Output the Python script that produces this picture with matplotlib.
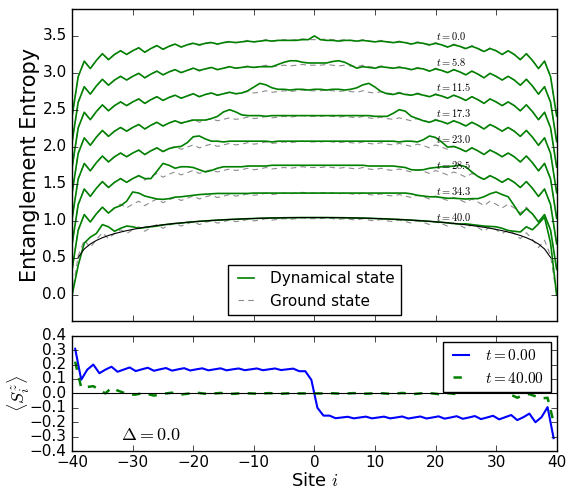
import numpy as np
import matplotlib.pyplot as plt
from matplotlib.lines import Line2D

plt.style.use('classic')
plt.rcParams['mathtext.fontset'] = 'cm'
plt.rcParams['xtick.labelsize'] = 11
plt.rcParams['ytick.labelsize'] = 11

# entanglement entropy on the bonds -40..40
times = [0.0, 5.8, 11.5, 17.3, 23.0, 28.5, 34.3, 40.0]
bonds = np.arange(-40, 41)

ground = [0.00, 0.53, 0.74, 0.64, 0.75, 0.84, 0.76, 0.83, 0.88, 0.83,
          0.88, 0.92, 0.86, 0.91, 0.95, 0.90, 0.94, 0.97, 0.93, 0.96,
          0.99, 0.95, 0.98, 1.00, 0.97, 0.99, 1.01, 0.99, 1.00, 1.02,
          1.00, 1.01, 1.03, 1.01, 1.02, 1.03, 1.02, 1.03, 1.04, 1.03,
          1.03,
          1.03, 1.04, 1.03, 1.02, 1.03, 1.02, 1.01, 1.03, 1.01, 1.00,
          1.02, 1.00, 0.99, 1.01, 0.99, 0.97, 1.00, 0.98, 0.95, 0.99,
          0.96, 0.93, 0.97, 0.94, 0.90, 0.95, 0.91, 0.86, 0.92, 0.88,
          0.83, 0.88, 0.83, 0.76, 0.84, 0.75, 0.64, 0.74, 0.53, 0.00]

dyn_t00 = [0.00, 0.53, 0.74, 0.64, 0.75, 0.84, 0.76, 0.83, 0.88, 0.83,
           0.88, 0.92, 0.86, 0.91, 0.95, 0.90, 0.94, 0.97, 0.93, 0.96,
           0.98, 0.96, 0.98, 0.99, 0.97, 0.99, 1.00, 0.99, 1.00, 1.01,
           1.00, 1.01, 1.02, 1.01, 1.02, 1.02, 1.02, 1.02, 1.03, 1.03,
           1.08,
           1.03, 1.02, 1.02, 1.01, 1.02, 1.02, 1.01, 1.02, 1.01, 1.00,
           1.01, 1.00, 0.99, 1.00, 0.99, 0.97, 0.99, 0.98, 0.96, 0.98,
           0.96, 0.93, 0.96, 0.94, 0.91, 0.94, 0.91, 0.87, 0.91, 0.88,
           0.83, 0.88, 0.83, 0.76, 0.84, 0.75, 0.64, 0.74, 0.53, 0.00]

dyn_t06 = [0.00, 0.53, 0.74, 0.64, 0.75, 0.84, 0.76, 0.83, 0.88, 0.83,
           0.88, 0.92, 0.86, 0.91, 0.95, 0.90, 0.94, 0.97, 0.93, 0.96,
           0.99, 0.96, 0.98, 1.00, 0.97, 0.99, 1.01, 0.99, 1.00, 1.01,
           1.00, 1.01, 1.01, 1.01, 1.04, 1.07, 1.09, 1.09, 1.07, 1.06,
           1.06,
           1.06, 1.06, 1.08, 1.09, 1.07, 1.03, 0.99, 1.01, 1.00, 0.99,
           1.01, 1.00, 0.99, 1.00, 0.99, 0.97, 0.99, 0.98, 0.95, 0.98,
           0.96, 0.93, 0.97, 0.94, 0.90, 0.95, 0.91, 0.86, 0.92, 0.88,
           0.83, 0.88, 0.83, 0.76, 0.84, 0.75, 0.64, 0.74, 0.53, 0.00]

dyn_t12 = [0.00, 0.53, 0.74, 0.64, 0.75, 0.84, 0.76, 0.83, 0.88, 0.83,
           0.88, 0.92, 0.86, 0.91, 0.95, 0.90, 0.94, 0.97, 0.93, 0.96,
           0.99, 0.95, 0.98, 1.00, 0.97, 0.99, 1.01, 0.99, 1.00, 1.03,
           1.08, 1.13, 1.11, 1.07, 1.05, 1.05, 1.04, 1.05, 1.05, 1.04,
           1.05,
           1.05, 1.04, 1.05, 1.05, 1.04, 1.05, 1.07, 1.11, 1.13, 1.08,
           1.02, 0.99, 0.98, 1.00, 0.98, 0.97, 0.99, 0.97, 0.95, 0.98,
           0.96, 0.93, 0.97, 0.94, 0.90, 0.95, 0.91, 0.86, 0.92, 0.88,
           0.83, 0.88, 0.83, 0.76, 0.84, 0.75, 0.64, 0.74, 0.53, 0.00]

dyn_t17 = [0.00, 0.53, 0.74, 0.64, 0.75, 0.84, 0.76, 0.83, 0.88, 0.83,
           0.88, 0.92, 0.86, 0.91, 0.95, 0.90, 0.94, 0.97, 0.94, 0.96,
           0.98, 0.98, 0.98, 1.00, 1.03, 1.09, 1.12, 1.09, 1.05, 1.04,
           1.04, 1.04, 1.03, 1.04, 1.04, 1.04, 1.04, 1.04, 1.04, 1.04,
           1.04,
           1.04, 1.04, 1.04, 1.04, 1.04, 1.04, 1.04, 1.04, 1.04, 1.03,
           1.03, 1.03, 1.07, 1.12, 1.10, 1.03, 1.00, 0.97, 0.95, 0.98,
           0.96, 0.93, 0.97, 0.94, 0.90, 0.95, 0.91, 0.86, 0.92, 0.88,
           0.83, 0.88, 0.83, 0.76, 0.84, 0.75, 0.64, 0.74, 0.53, 0.00]

dyn_t23 = [0.00, 0.53, 0.74, 0.64, 0.75, 0.84, 0.76, 0.83, 0.88, 0.83,
           0.88, 0.92, 0.86, 0.91, 0.95, 0.90, 0.94, 0.96, 0.97, 1.02,
           1.10, 1.11, 1.07, 1.04, 1.04, 1.03, 1.04, 1.04, 1.04, 1.04,
           1.04, 1.04, 1.04, 1.03, 1.04, 1.04, 1.04, 1.04, 1.04, 1.04,
           1.04,
           1.04, 1.04, 1.04, 1.04, 1.04, 1.04, 1.04, 1.04, 1.04, 1.04,
           1.04, 1.04, 1.04, 1.03, 1.04, 1.04, 1.03, 1.06, 1.11, 1.09,
           1.03, 0.96, 0.97, 0.94, 0.90, 0.95, 0.91, 0.86, 0.92, 0.88,
           0.83, 0.88, 0.83, 0.76, 0.84, 0.75, 0.64, 0.74, 0.53, 0.00]

dyn_t29 = [0.00, 0.53, 0.74, 0.64, 0.75, 0.84, 0.76, 0.83, 0.88, 0.83,
           0.88, 0.92, 0.88, 0.88, 0.98, 1.085, 1.06, 1.02, 1.04, 1.04,
           1.03, 1.00, 0.97, 0.99, 1.02, 1.04, 1.04, 1.04, 1.04, 1.05,
           1.05, 1.05, 1.05, 1.06, 1.06, 1.06, 1.06, 1.06, 1.06, 1.06,
           1.06,
           1.06, 1.06, 1.06, 1.06, 1.06, 1.06, 1.06, 1.06, 1.05, 1.05,
           1.05, 1.05, 1.05, 1.04, 1.03, 1.00, 0.995, 1.00, 1.02, 1.03,
           1.04, 1.04, 1.05, 1.06, 1.04, 0.97, 0.91, 0.87, 0.92, 0.88,
           0.83, 0.88, 0.83, 0.76, 0.84, 0.75, 0.64, 0.74, 0.53, 0.00]

dyn_t34 = [0.00, 0.53, 0.74, 0.64, 0.75, 0.84, 0.76, 0.83, 0.86, 0.92,
           1.045, 1.03, 0.99, 0.97, 0.95, 0.945, 0.955, 0.975, 0.98, 0.99,
           1.00, 1.01, 1.015, 1.02, 1.025, 1.025, 1.025, 1.025, 1.025, 1.025,
           1.03, 1.03, 1.03, 1.03, 1.03, 1.03, 1.03, 1.03, 1.03, 1.03,
           1.03,
           1.03, 1.03, 1.03, 1.03, 1.03, 1.03, 1.03, 1.03, 1.03, 1.03,
           1.03, 1.03, 1.03, 1.03, 1.03, 1.02, 1.00, 0.99, 0.98, 0.98,
           0.97, 0.96, 0.96, 0.955, 0.95, 0.955, 0.955, 0.98, 1.02, 1.045,
           1.01, 0.98, 0.86, 0.735, 0.82, 0.75, 0.64, 0.74, 0.53, 0.00]

dyn_t40 = [0.00, 0.40, 0.70, 0.78, 0.83, 0.95, 0.92, 0.86, 0.90, 0.93,
           0.92, 0.90, 0.91, 0.92, 0.93, 0.945, 0.955, 0.965, 0.97, 0.98,
           0.987, 0.994, 0.999, 1.005, 1.010, 1.014, 1.019, 1.022, 1.026, 1.029,
           1.032, 1.035, 1.037, 1.039, 1.040, 1.042, 1.043, 1.044, 1.045, 1.045,
           1.045,
           1.045, 1.045, 1.044, 1.043, 1.042, 1.040, 1.039, 1.037, 1.035, 1.032,
           1.029, 1.026, 1.022, 1.019, 1.014, 1.010, 1.005, 0.999, 0.994, 0.987,
           0.981, 0.973, 0.965, 0.957, 0.96, 0.95, 0.94, 0.93, 0.925, 0.92,
           0.90, 0.87, 0.86, 0.85, 0.92, 0.88, 0.96, 1.05, 0.70, 0.00]

dynamical = [dyn_t00, dyn_t06, dyn_t12, dyn_t17, dyn_t23, dyn_t29, dyn_t34, dyn_t40]

# smooth reference curve for the last time, bonds -39..39
cft_bonds = np.arange(-39, 40)
cft = [0.506, 0.621, 0.688, 0.736, 0.773, 0.803, 0.828, 0.849, 0.868, 0.885,
       0.900, 0.914, 0.926, 0.937, 0.947, 0.957, 0.965, 0.973, 0.981, 0.987,
       0.994, 0.999, 1.005, 1.010, 1.014, 1.019, 1.022, 1.026, 1.029, 1.032,
       1.035, 1.037, 1.039, 1.040, 1.042, 1.043, 1.044, 1.045, 1.045,
       1.045,
       1.045, 1.045, 1.044, 1.043, 1.042, 1.040, 1.039, 1.037, 1.035, 1.032,
       1.029, 1.026, 1.022, 1.019, 1.014, 1.010, 1.005, 0.999, 0.994, 0.987,
       0.981, 0.973, 0.965, 0.957, 0.947, 0.937, 0.926, 0.914, 0.900, 0.885,
       0.868, 0.849, 0.828, 0.803, 0.773, 0.736, 0.688, 0.621, 0.506]

# magnetisation on the sites -39.5..39.5
sites = np.arange(-39.5, 40.0, 1.0)
sz_t0 = [0.31, 0.095, 0.165, 0.20, 0.14, 0.165, 0.185, 0.15, 0.165, 0.18,
         0.155, 0.167, 0.178, 0.157, 0.167, 0.176, 0.158, 0.167, 0.175, 0.159,
         0.167, 0.174, 0.160, 0.167, 0.174, 0.160, 0.167, 0.173, 0.161, 0.167,
         0.173, 0.161, 0.167, 0.173, 0.162, 0.167, 0.172, 0.154, 0.154, 0.094,
         -0.10, -0.154, -0.154, -0.172, -0.167, -0.162, -0.173, -0.167, -0.161, -0.173,
         -0.167, -0.161, -0.173, -0.167, -0.160, -0.174, -0.167, -0.160, -0.174, -0.167,
         -0.159, -0.175, -0.167, -0.158, -0.176, -0.167, -0.157, -0.178, -0.167, -0.155,
         -0.18, -0.165, -0.15, -0.185, -0.165, -0.14, -0.20, -0.165, -0.095, -0.31]
sz_t40 = [0.22, 0.04, 0.045, 0.05, 0.025, 0.0, 0.04, 0.02, 0.005, -0.01,
          -0.008, 0.0, -0.005, -0.015, -0.008, 0.0, 0.005, -0.008, -0.005, 0.0,
          0.006, 0.0, -0.004, 0.0, 0.003, 0.0, -0.003, 0.0, 0.002, 0.0,
          -0.002, 0.0, 0.002, 0.0, -0.002, 0.0, 0.002, 0.0, 0.0, 0.0,
          0.0, 0.0, 0.002, 0.0, -0.002, 0.0, 0.002, 0.0, -0.002, 0.0,
          0.003, 0.0, -0.003, 0.0, 0.003, 0.0, -0.004, 0.0, 0.004, 0.0,
          -0.005, 0.004, 0.0, -0.005, 0.005, 0.012, 0.018, 0.008, 0.01, 0.015,
          0.02, 0.005, -0.01, -0.03, -0.01, -0.005, -0.02, -0.035, -0.03, -0.2]

shift = 0.345

fig = plt.figure(figsize=(5.68, 4.93), dpi=100, facecolor='white')
ax1 = fig.add_axes([0.127, 0.349, 0.853, 0.633])
ax2 = fig.add_axes([0.127, 0.085, 0.853, 0.234])

for n, (t, s) in enumerate(zip(times, dynamical)):
    k = len(times) - 1 - n
    ax1.plot(bonds, np.array(ground) + k * shift, '--', color='0.55', lw=0.8, dashes=(4, 3))
    ax1.plot(bonds, np.array(s) + k * shift, '-', color='g', lw=1.2)
    ax1.text(20, 1.05 + k * 0.35, r'$t=%.1f$' % t, fontsize=7.5, va='center', ha='left')
ax1.plot(cft_bonds, cft, '-', color='k', lw=0.8)

handles = [Line2D([], [], color='g', lw=1.2),
           Line2D([], [], color='0.55', lw=0.8, ls='--', dashes=(4, 3))]
ax1.legend(handles, ['Dynamical state', 'Ground state'], loc='lower center',
           fontsize=11, handlelength=1.6, numpoints=2, borderaxespad=0.4)
ax1.set_xlim(-40, 40)
ax1.set_ylim(-0.35, 3.86)
ax1.set_yticks(np.arange(0, 3.51, 0.5))
ax1.set_xticks(np.arange(-40, 41, 10))
ax1.tick_params(labelbottom=False)
ax1.set_ylabel('Entanglement Entropy', fontsize=15)
ax1.yaxis.set_label_coords(-0.067, 0.5)

ax2.plot(sites, sz_t0, '-', color='b', lw=1.5, label=r'$t=0.00$')
ax2.plot(sites, sz_t40, '--', color='g', lw=1.8, label=r'$t=40.00$')
ax2.axhline(0, color='k', lw=0.8)
ax2.text(-32, -0.29, r'$\Delta=0.0$', fontsize=13, va='center')
ax2.legend(loc='upper right', fontsize=11, handlelength=1.6, numpoints=2, borderaxespad=0.4)
ax2.set_xlim(-40, 40)
ax2.set_ylim(-0.4, 0.4)
ax2.set_yticks(np.arange(-0.4, 0.41, 0.1))
ax2.set_xticks(np.arange(-40, 41, 10))
ax2.tick_params(axis='x', pad=3)
ax2.set_xlabel(r'Site $i$', fontsize=13)
ax2.xaxis.set_label_coords(0.5, -0.182)
ax2.set_ylabel(r'$\langle S_i^z \rangle$', fontsize=13)
ax2.yaxis.set_label_coords(-0.083, 0.5)

fig.savefig('out.png', dpi=100, facecolor='white')
